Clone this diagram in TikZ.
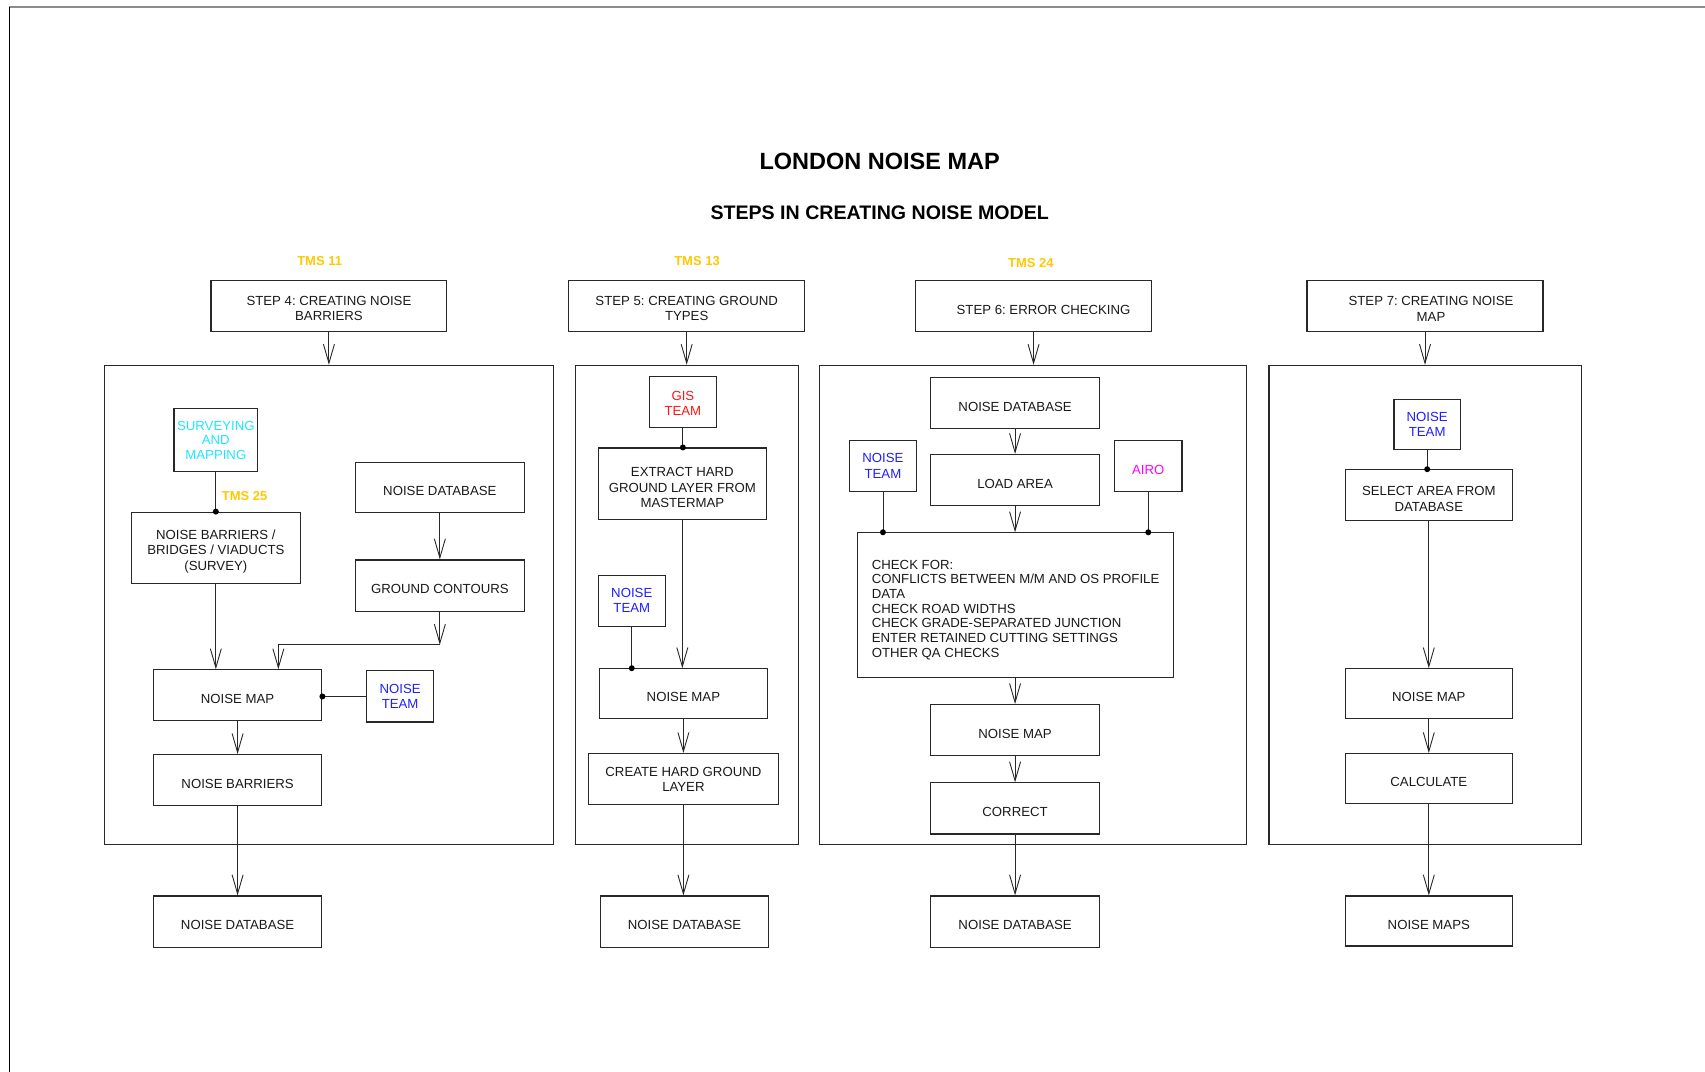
\documentclass[tikz,border=0pt]{standalone}
\usepackage{fontspec}
\setmainfont{Liberation Sans}
\usetikzlibrary{arrows.meta,fit}
\frenchspacing
\definecolor{tmsgold}{RGB}{255,200,0}
\definecolor{sacyan}{RGB}{30,230,255}
\definecolor{teamblue}{RGB}{30,30,255}
\definecolor{gisred}{RGB}{255,20,20}
\definecolor{airomag}{RGB}{255,0,255}
\definecolor{lineblk}{RGB}{40,40,40}
\newlength\boxlift
\setlength\boxlift{16.5pt}
\newcommand\liftline[1]{\rule{0pt}{#1}}
\tikzset{
  box/.style args={#1/#2/#3/#4}{draw=lineblk, line width=1.1pt, rectangle,
    at={({(#1+#3)/2},{(#2+#4)/2})},
    minimum width={(#3-#1)*1.0874pt}, minimum height={(#4-#2)*1.0874pt},
    inner sep=1pt, font=\fontsize{13.2}{15.2}\selectfont, align=center, text=black!90,
    execute at begin node={\rule{0pt}{\boxlift}}},
  container/.style={draw=lineblk, line width=1.1pt, fit={#1}, inner sep=0pt},
  arr/.style={-{Straight Barb[length=19pt,width=11pt]}, line width=0.9pt, draw=lineblk},
  conn/.style={line width=0.9pt, draw=lineblk},
  dot/.style={circle, fill=black, inner sep=0pt, minimum size=6pt},
  tms/.style={font=\fontsize{13}{15}\selectfont\bfseries, text=tmsgold},
}
\begin{document}
\begin{tikzpicture}[x=1.0874pt, y=-1.0874pt]
\useasboundingbox (0,0) rectangle (1568,985);
% frame
\draw[line width=1.6pt, draw=gray!90] (1600,6.4) -- (8.5,6.4);
\draw[line width=1.4pt, draw=black] (8.5,6.4) -- (8.5,1000);

% titles
\node[font=\fontsize{23.5}{27}\selectfont\bfseries] (title) at (809,148) {LONDON NOISE MAP};
\node[font=\fontsize{19.6}{23}\selectfont\bfseries] (subtitle) at (809,196) {STEPS IN CREATING NOISE MODEL};

% TMS labels
\node[tms] (tms11) at (294,240) {TMS 11};
\node[tms] (tms13) at (641,240) {TMS 13};
\node[tms] (tms24) at (948,242) {TMS 24};
\node[tms] (tms25) at (225,456) {TMS 25};

% step boxes
\node[box=194/258/411/305] (s4) {\liftline{14.3pt}STEP 4: CREATING NOISE\\BARRIERS};
\node[box=523/258/740/305] (s5) {\liftline{14.3pt}STEP 5: CREATING GROUND\\TYPES};
\node[box=842/258/1059/305] (s6) {\hspace*{20pt}STEP 6: ERROR CHECKING};
\node[box=1202/258/1419/305] (s7) {\liftline{15pt}\hspace*{12pt}STEP 7: CREATING NOISE\\\hspace*{12pt}MAP};

% containers
\node[container={(96,336) (509,777)}] (c1) {};
\node[container={(529,336) (734,777)}] (c2) {};
\node[container={(754,336) (1146,777)}] (c3) {};
\node[container={(1167,336) (1454,777)}] (c4) {};

\draw[arr] (s4.south) -- (s4.south |- c1.north);
\draw[arr] (s5.south) -- (s5.south |- c2.north);
\draw[arr] (s6.south) -- (s6.south |- c3.north);
\draw[arr] (s7.south) -- (s7.south |- c4.north);

% ---------- column 1 ----------
\node[box=160/376/237/434, text=sacyan, font=\fontsize{13.2}{14.2}\selectfont] (sm) {SURVEYING\\AND\\MAPPING};
\node[box=121/471/276/537] (nbb) {\liftline{16.4pt}NOISE BARRIERS /\\BRIDGES / VIADUCTS\\(SURVEY)};
\node[box=327/425/482/471] (nd1) {NOISE DATABASE};
\node[box=327/515/482/562] (gc) {GROUND CONTOURS};
\node[box=141/616/296/663] (nm1) {NOISE MAP};
\node[box=337/617/399/664, text=teamblue] (nt1) {NOISE\\TEAM};
\node[box=141/694/296/741] (nb) {NOISE BARRIERS};
\node[box=141/824/296/871] (out1) {NOISE DATABASE};

\draw[conn] (sm.south) -- (sm.south |- nbb.north) node[dot] (d1) {};
\draw[arr] (nbb.south) -- (nbb.south |- nm1.north);
\draw[arr] (nd1.south) -- (gc.north);
\coordinate (b1) at (404.5,593);
\coordinate (b2) at (256,593);
\draw[arr] (gc.south) -- (b1);
\draw[arr] (b1) -- (b2) -- (b2 |- nm1.north);
\draw[conn] (nt1.west) -- (nt1.west -| nm1.east) node[dot] (d2) {};
\draw[arr] (nm1.south) -- (nb.north);
\draw[arr] (nb.south) -- (out1.north);

% ---------- column 2 ----------
\node[box=597/346/659/393, text=gisred] (gis) {\liftline{12pt}GIS\\TEAM};
\node[box=550/412/705/478] (ext) {\liftline{16.4pt}EXTRACT HARD\\GROUND LAYER FROM\\MASTERMAP};
\node[box=550/529/612/576, text=teamblue] (nt2) {NOISE\\TEAM};
\node[box=551/615/706/661] (nm2) {NOISE MAP};
\node[box=541/693/716/740] (chg) {CREATE HARD GROUND\\LAYER};
\node[box=552/824/707/871] (out2) {NOISE DATABASE};

\draw[conn] (gis.south) -- (gis.south |- ext.north) node[dot] (d3) {};
\draw[arr] (ext.south) -- (ext.south |- nm2.north);
\draw[conn] (nt2.south) -- (nt2.south |- nm2.north) node[dot] (d4) {};
\draw[arr] (nm2.south) -- (nm2.south |- chg.north);
\draw[arr] (chg.south) -- (chg.south |- out2.north);

% ---------- column 3 ----------
\node[box=856/347/1011/394] (nd3) {NOISE DATABASE};
\node[box=856/418/1011/465] (la) {LOAD AREA};
\node[box=781/405/843/452, text=teamblue] (nt3) {NOISE\\TEAM};
\node[box=1025/405/1087/452, text=airomag] (airo) {AIRO};
\node[box=789/490/1079/623, align=left, font=\fontsize{13.2}{14.7}\selectfont,
      execute at begin node={}] (chk)
  {\liftline{18.6pt}CHECK FOR:\\CONFLICTS BETWEEN M/M AND OS PROFILE\hspace*{8.7pt}\\DATA\\CHECK ROAD WIDTHS\\CHECK GRADE-SEPARATED JUNCTION\\ENTER RETAINED CUTTING SETTINGS\\OTHER QA CHECKS};
\node[box=856/648/1011/695] (nm3) {NOISE MAP};
\node[box=856/720/1011/767] (cor) {CORRECT};
\node[box=856/824/1011/871] (out3) {NOISE DATABASE};

\draw[arr] (nd3.south) -- (la.north);
\draw[arr] (la.south) -- (la.south |- chk.north);
\draw[conn] (nt3.south) -- (nt3.south |- chk.north) node[dot] (d5) {};
\draw[conn] (airo.south) -- (airo.south |- chk.north) node[dot] (d6) {};
\draw[arr] (la.south |- chk.south) -- (nm3.north);
\draw[arr] (nm3.south) -- (cor.north);
\draw[arr] (cor.south) -- (out3.north);

% ---------- column 4 ----------
\node[box=1282/367/1343/413, text=teamblue] (nt4) {NOISE\\TEAM};
\node[box=1237/432/1391/479] (sel) {\liftline{16.4pt}SELECT AREA FROM\\DATABASE};
\node[box=1237/615/1391/661] (nm4) {NOISE MAP};
\node[box=1237/693/1391/739] (calc) {CALCULATE};
\node[box=1237/824/1391/870] (out4) {NOISE MAPS};

\draw[conn] (nt4.south) -- (nt4.south |- sel.north) node[dot] (d7) {};
\draw[arr] (sel.south) -- (nm4.north);
\draw[arr] (nm4.south) -- (calc.north);
\draw[arr] (calc.south) -- (out4.north);
\end{tikzpicture}
\end{document}
